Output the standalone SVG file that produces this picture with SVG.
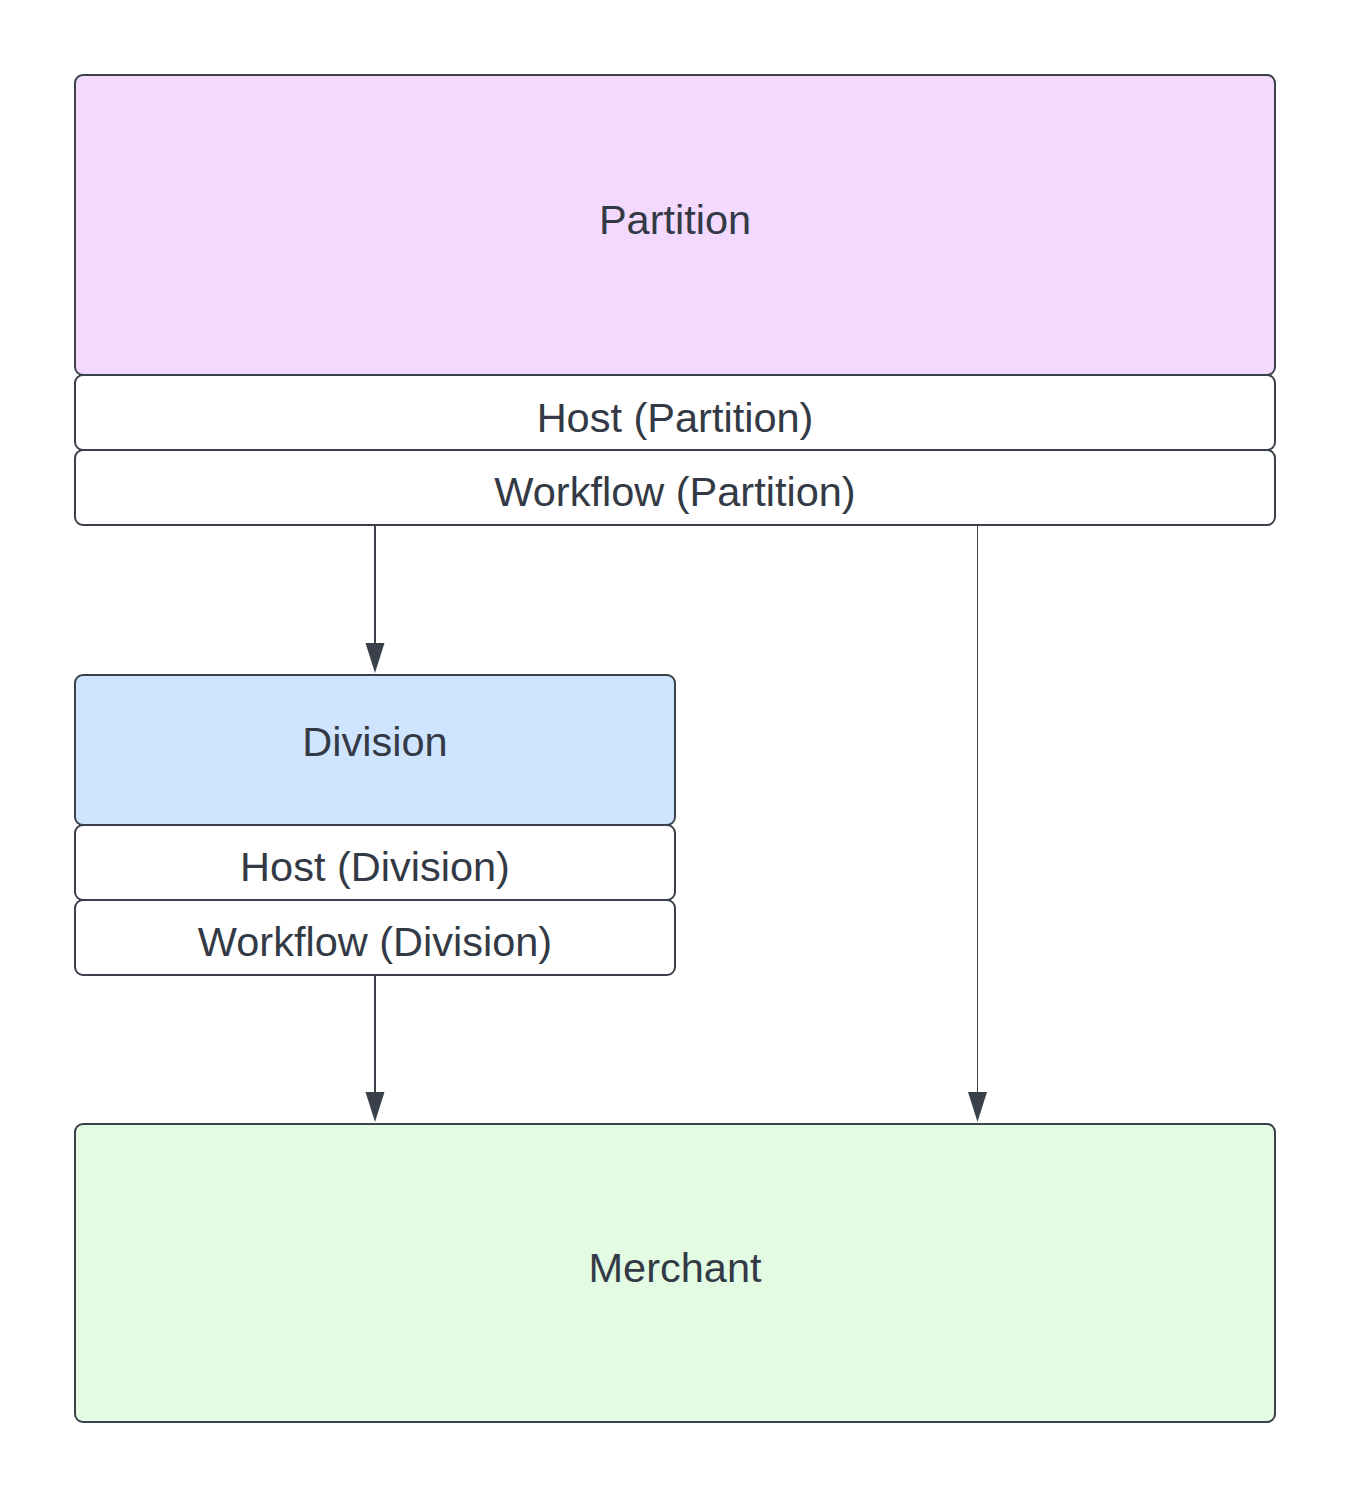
<svg xmlns="http://www.w3.org/2000/svg" width="1350" height="1498" viewBox="0 0 1350 1498">
<style>
.box{stroke:#3a414a;stroke-width:2}
.w{fill:#ffffff}
.t{font-family:"Liberation Sans",Arial,sans-serif;font-size:41.5px;fill:#333a45;text-anchor:middle}
.c{stroke:#3a414a;fill:none}
.ah{fill:#3a414a}
</style>
<rect width="1350" height="1498" fill="#ffffff"/>
<g id="connectors">
<path class="c" stroke-width="2" d="M375,525 V643"/>
<path class="ah" d="M365.5,643 L384.5,643 L375,673 Z"/>
<path class="c" stroke-width="2" d="M375,975 V1092"/>
<path class="ah" d="M365.5,1092 L384.5,1092 L375,1122 Z"/>
<path class="c" stroke-width="1" d="M977.5,525 V1092"/>
<path class="ah" d="M968,1092 L987,1092 L977.5,1122 Z"/>
</g>
<g id="partition">
<rect class="box" x="75" y="75" width="1200" height="300" rx="8" fill="#f2d9fd"/>
<text class="t" x="675" y="234">Partition</text>
</g>
<g id="host-partition">
<rect class="box w" x="75" y="375" width="1200" height="75" rx="8"/>
<text class="t" x="675" y="431.5">Host (Partition)</text>
</g>
<g id="workflow-partition">
<rect class="box w" x="75" y="450" width="1200" height="75" rx="8"/>
<text class="t" x="675" y="506">Workflow (Partition)</text>
</g>
<g id="division">
<rect class="box" x="75" y="675" width="600" height="150" rx="8" fill="#cfe4ff"/>
<text class="t" x="375" y="756">Division</text>
</g>
<g id="host-division">
<rect class="box w" x="75" y="825" width="600" height="75" rx="8"/>
<text class="t" x="375" y="880.5">Host (Division)</text>
</g>
<g id="workflow-division">
<rect class="box w" x="75" y="900" width="600" height="75" rx="8"/>
<text class="t" x="375" y="955.5">Workflow (Division)</text>
</g>
<g id="merchant">
<rect class="box" x="75" y="1124" width="1200" height="298" rx="8" fill="#e3fae3"/>
<text class="t" x="675" y="1282">Merchant</text>
</g>
</svg>
